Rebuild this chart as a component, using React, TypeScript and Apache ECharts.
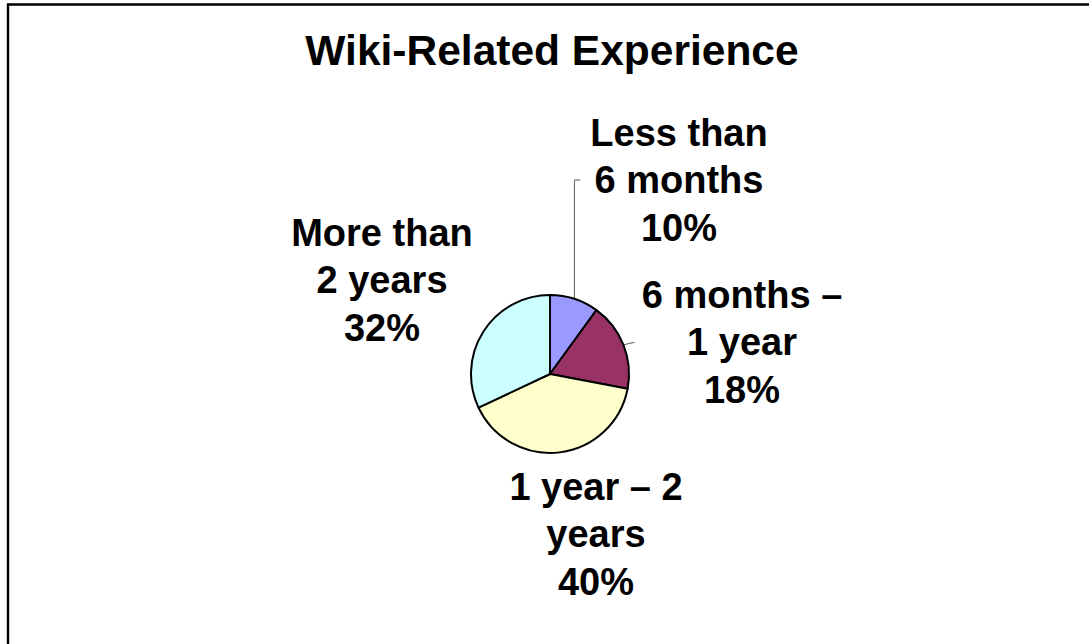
import React, { useEffect, useRef } from "react";
import * as echarts from "echarts";

const titleText = "Wiki-Related Experience";
const categories = [
  "Less than\n6 months",
  "6 months –\n1 year",
  "1 year – 2\nyears",
  "More than\n2 years",
];
const values = [10, 18, 40, 32];
const colors = ["#9999FF", "#993366", "#FFFFCC", "#CCFFFF"];

// label centres (layout only)
const labelPos = [
  [679, 180],
  [742, 342],
  [596, 534],
  [382, 280],
];

export default function App() {
  const ref = useRef<HTMLDivElement>(null);
  useEffect(() => {
    if (!ref.current) return;
    const chart = echarts.init(ref.current, null, { renderer: "svg" });
    const font = "Arial, 'Liberation Sans', sans-serif";
    chart.setOption({
      animation: false,
      backgroundColor: "#ffffff",
      graphic: [
        {
          type: "rect",
          shape: { x: 8, y: 4.5, width: 3000, height: 3000 },
          style: { fill: "none", stroke: "#000", lineWidth: 2.4 },
          silent: true,
        },
        {
          type: "text",
          x: 552,
          y: 50,
          style: {
            text: titleText,
            fontFamily: font,
            fontSize: 42.5,
            fontWeight: "bold",
            fill: "#000",
            align: "center",
            verticalAlign: "middle",
          },
        },
      ],
      series: [
        {
          type: "pie",
          center: [550, 374],
          radius: 79,
          startAngle: 90,
          clockwise: true,
          avoidLabelOverlap: false,
          itemStyle: { borderColor: "#000", borderWidth: 2 },
          label: {
            show: true,
            position: "outside",
            formatter: (p: any) => `${p.name}\n${Math.round(p.percent)}%`,
            fontFamily: font,
            fontSize: 38,
            fontWeight: "bold",
            color: "#000",
            lineHeight: 47.5,
            align: "center",
          },
          labelLine: {
            show: true,
            lineStyle: { color: "#555", width: 1 },
          },
          labelLayout: (params: any) => {
            const i = params.dataIndex;
            const [lx, ly] = labelPos[i];
            const res: any = {
              x: lx,
              y: ly,
              align: "center",
              verticalAlign: "middle",
            };
            const pts = params.labelLinePoints;
            if (pts && pts[0]) {
              const e = pts[0];
              if (i === 0) {
                res.labelLinePoints = [
                  [e[0], e[1]],
                  [e[0], 180],
                  [e[0] + 6, 180],
                ];
              } else if (i === 1) {
                res.labelLinePoints = [
                  [e[0], e[1]],
                  [e[0] + 6, e[1] - 1.5],
                  [e[0] + 11, e[1] - 2.5],
                ];
              }
            }
            return res;
          },
          data: categories.map((name, i) => ({
            name,
            value: values[i],
            itemStyle: { color: colors[i] },
            labelLine: { show: i < 2 },
          })),
        },
      ],
    });
    return () => chart.dispose();
  }, []);
  return (
    <div
      ref={ref}
      style={{ position: "absolute", left: 0, top: 0, width: 1089, height: 644 }}
    />
  );
}
